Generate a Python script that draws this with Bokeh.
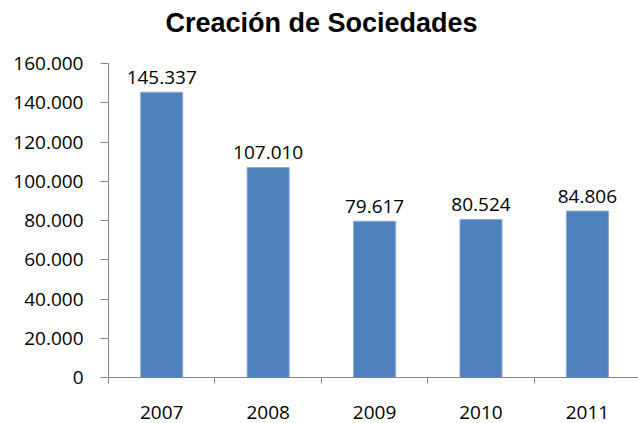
from bokeh.plotting import figure
from bokeh.models import Range1d, FixedTicker, LinearAxis, Title, ColumnDataSource
from bokeh.core.properties import value
from bokeh.embed import file_html
from bokeh.resources import INLINE

# ---- data ----
years = ["2007", "2008", "2009", "2010", "2011"]
sociedades = [145337, 107010, 79617, 80524, 84806]
y_ticks = [0, 20000, 40000, 60000, 80000, 100000, 120000, 140000, 160000]
y_tick_labels = ["0", "20.000", "40.000", "60.000", "80.000", "100.000", "120.000", "140.000", "160.000"]
title_text = "Creación de Sociedades"

# ---- derived ----
centers = [i + 0.5 for i in range(len(years))]
boundaries = [float(i) for i in range(len(years) + 1)]
bar_labels = [f"{v:,}".replace(",", ".") for v in sociedades]
src = ColumnDataSource(dict(x=centers, y=sociedades, lab=bar_labels))

GRAY = "#868686"
FONT = "Open Sans"

p = figure(width=638, height=423, output_backend="svg", toolbar_location=None,
           title=None,
           x_range=Range1d(0, 4.98), y_range=Range1d(0, 160000),
           min_border_left=108, min_border_right=0, min_border_top=63, min_border_bottom=46,
           x_axis_type=None, y_axis_type=None)
p.outline_line_color = None
p.background_fill_color = "white"
p.border_fill_color = "white"

# spacer between frame and title, then the title itself
spacer = Title(text=" ", text_font_size="1px", standoff=23)
p.add_layout(spacer, "above")
title = Title(text=title_text, align="left", offset=57, standoff=0,
              text_font="Liberation Sans", text_font_style="bold",
              text_font_size="27px", text_color="black")
p.add_layout(title, "above")

# y axis
yax = LinearAxis(ticker=FixedTicker(ticks=y_ticks, minor_ticks=[]))
yax.major_label_overrides = {t: l for t, l in zip(y_ticks, y_tick_labels)}
yax.axis_line_color = GRAY
yax.major_tick_line_color = GRAY
yax.major_tick_out = 8
yax.major_tick_in = 0
yax.minor_tick_line_color = None
yax.major_label_standoff = 17
yax.major_label_text_font = FONT
yax.major_label_text_font_size = "19px"
yax.major_label_text_color = "black"
p.add_layout(yax, "left")

# x axis
xax = LinearAxis(ticker=FixedTicker(ticks=centers, minor_ticks=boundaries))
xax.major_label_overrides = {c: y for c, y in zip(centers, years)}
xax.axis_line_color = GRAY
xax.major_tick_line_color = None
xax.major_tick_out = 0
xax.major_tick_in = 0
xax.minor_tick_line_color = GRAY
xax.minor_tick_out = 6
xax.minor_tick_in = 0
xax.major_label_standoff = 22
xax.major_label_text_font = FONT
xax.major_label_text_font_size = "19px"
xax.major_label_text_color = "black"
p.add_layout(xax, "below")

p.ygrid.ticker = FixedTicker(ticks=y_ticks)
p.ygrid.grid_line_color = GRAY
p.ygrid.grid_line_width = 1
p.xgrid.grid_line_color = None

p.vbar(x="x", top="y", width=0.395, source=src, fill_color="#4F81BD",
       line_color="#8DAAD3", line_width=1)

p.text(x="x", y="y", text="lab", source=src, text_align="center",
       text_baseline="alphabetic", y_offset=-15,
       text_font=value(FONT), text_font_size="19px", text_color="black")

open("out.html", "w").write(file_html(p, INLINE))
